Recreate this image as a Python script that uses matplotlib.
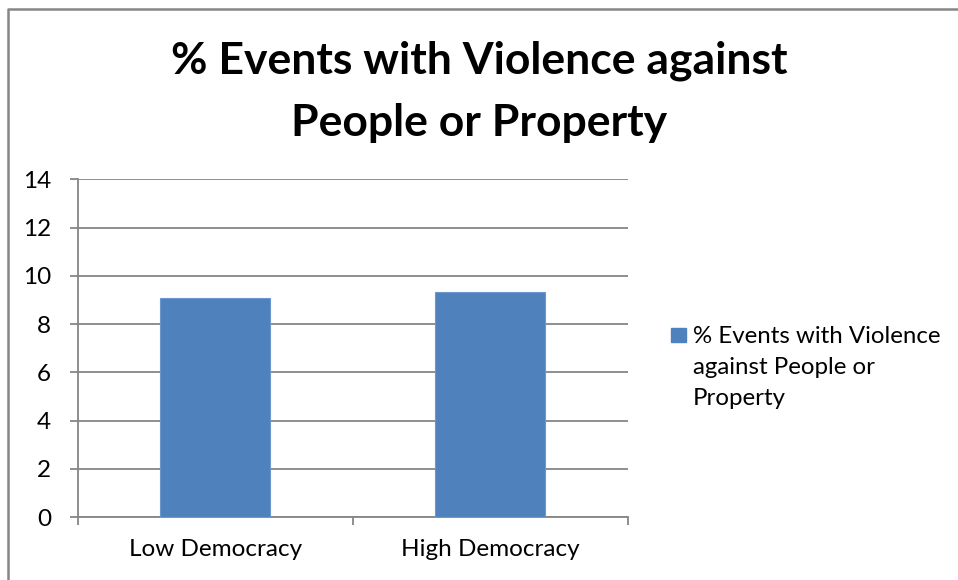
import numpy as np
import matplotlib.pyplot as plt
from matplotlib.patches import Rectangle
from matplotlib.lines import Line2D

categories = ["Low Democracy", "High Democracy"]
values = [9.08, 9.35]
series_name = "% Events with Violence\nagainst People or\nProperty"
title = "% Events with Violence against\nPeople or Property"
yticks = [0, 2, 4, 6, 8, 10, 12, 14]

plt.rcParams['font.family'] = ['Lato', 'DejaVu Sans']
grey = "#868686"
blue = "#4f81bd"
W, H = 958, 580

fig = plt.figure(figsize=(9.58, 5.8), dpi=100)
ax = fig.add_axes([77.5 / W, 1 - 517.2 / H, 550.5 / W, 337.8 / H])

x = np.arange(len(categories))
ax.bar(x, values, width=0.4, color=blue, edgecolor="#6b97cc", linewidth=0.8, zorder=3)

ax.set_xlim(-0.5, 1.5)
ax.set_ylim(0, 14)
ax.set_yticks(yticks)
ax.set_yticklabels([str(t) for t in yticks], fontsize=17.5)
ax.yaxis.grid(True, color=grey, linewidth=1.3, zorder=0)

# category boundaries as tick marks, labels sit in between
ax.set_xticks([-0.5, 0.5, 1.5])
ax.set_xticklabels([])
ax.set_xticks(x, minor=True)
ax.set_xticklabels(categories, minor=True, fontsize=17.5)
ax.tick_params(axis='x', which='minor', length=0, pad=16)
ax.tick_params(axis='x', which='major', length=6, color=grey, width=1.3)
ax.tick_params(axis='y', length=6, color=grey, width=1.3, pad=13)

for s in ["top", "right"]:
    ax.spines[s].set_visible(False)
for s in ["left", "bottom"]:
    ax.spines[s].set_color(grey)
    ax.spines[s].set_linewidth(1.3)

fig.text(0.5, 1 - 92 / H, title, ha="center", va="center", fontsize=32,
         fontweight="bold", linespacing=1.68)

# legend entry on the right
fig.patches.append(Rectangle((671 / W, 1 - 342 / H), 15 / W, 14 / H,
                             transform=fig.transFigure, color=blue))
fig.text(693 / W, 1 - 326 / H, series_name, ha="left", va="top",
         fontsize=17.3, linespacing=1.58)

# chart border (left and top edges fall inside the canvas)
fig.lines.append(Line2D([8 / W, 8 / W, 1.0], [0.0, 1 - 9 / H, 1 - 9 / H],
                        transform=fig.transFigure, color=grey, linewidth=1.8))

fig.savefig("out.png", dpi=100)
